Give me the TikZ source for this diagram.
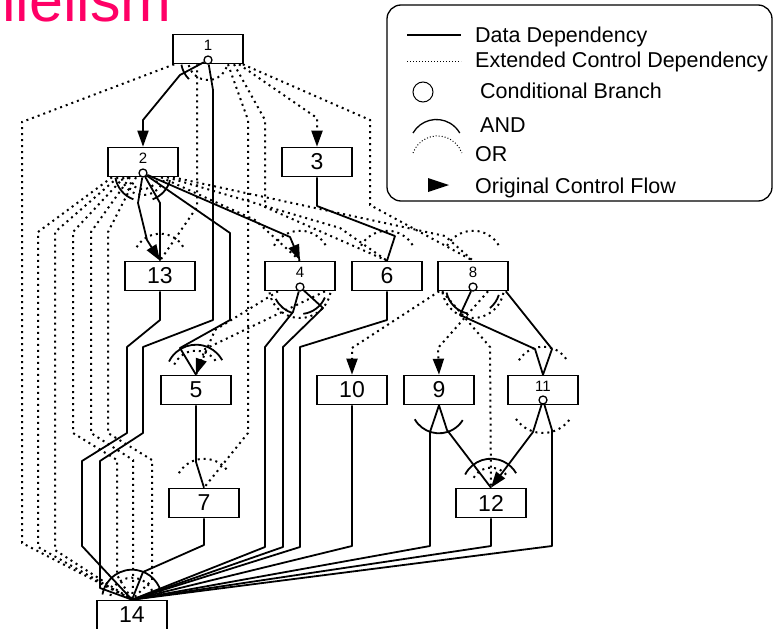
\documentclass[tikz,border=0pt]{standalone}
\usepackage{fontspec}
\setmainfont{Liberation Sans}
\usepackage{xcolor}
\definecolor{TitlePink}{HTML}{FF0066}
\usepackage{tikz}
\usetikzlibrary{arrows.meta}

\begin{document}
\begin{tikzpicture}[x=1pt,y=-1pt,
box/.style={draw,line width=1.6pt,minimum width=70pt,minimum height=29pt,inner sep=0pt,font=\fontsize{23}{23}\selectfont},
cbox/.style={box,font=\fontsize{15}{15}\selectfont,text height=10pt,text depth=8pt},
cond/.style={circle,draw,line width=1.3pt,fill=white,minimum size=8pt,inner sep=0pt},
dd/.style={line width=1.8pt,line join=round},
ecd/.style={line width=2pt,dash pattern=on 2pt off 4pt},
ocf/.style={-{Triangle[length=16pt,width=11pt]}},
andarc/.style={line width=1.8pt},
orarc/.style={ecd},
key/.style={anchor=base west,inner sep=0pt,font=\fontsize{21.5}{24}\selectfont}]
\useasboundingbox (0,0) rectangle (774,629);
\clip (0,0) rectangle (774,629);
\node[font=\fontsize{61}{61}\selectfont,text=TitlePink,anchor=base west,inner sep=0pt] (title) at (2,21) {llelism};
% legend
\draw[line width=1.3pt,rounded corners=14pt] (387,5) rectangle (772,201);
\draw[line width=1.4pt] (407,35) -- (461,35);
\draw[line width=1pt,dotted] (407,61) -- (461,61);
\draw[line width=1pt] (423,92) circle[radius=10pt];
\draw[line width=1.3pt] (413,133) arc[start angle=150,end angle=30,radius=27pt];
\draw[line width=1pt,dotted] (413,153) arc[start angle=160,end angle=20,radius=26pt];
\fill (428,178) -- (449,185) -- (428,192) -- cycle;
\node[key] (kdd) at (475,42) {Data Dependency};
\node[key] (kecd) at (475,67) {Extended Control Dependency};
\node[key] (kcb) at (480,98) {Conditional Branch};
\node[key] (kand) at (480,132) {AND};
\node[key] (kor) at (475,161) {OR};
\node[key] (kocf) at (475,193) {Original Control Flow};
% statements
\node[cbox] (n1) at (208,49) {1};
\node[cbox] (n2) at (143,162) {2};
\node[box] (n3) at (317,162) {3};
\node[box] (n13) at (160,276) {13};
\node[cbox] (n4) at (300,276) {4};
\node[box] (n6) at (387,276) {6};
\node[cbox] (n8) at (473,276) {8};
\node[box] (n5) at (196,390) {5};
\node[box] (n10) at (352,390) {10};
\node[box] (n9) at (439,390) {9};
\node[cbox] (n11) at (543,390) {11};
\node[box] (n7) at (204,503) {7};
\node[box] (n12) at (491,503) {12};
\node[box] (n14) at (132,615) {14};
% branches
\node[cond] (c1) at (208,60) {};
\node[cond] (c2) at (143,173) {};
\node[cond] (c4) at (300,287) {};
\node[cond] (c8) at (473,287) {};
\node[cond] (c11) at (543,400) {};
% data dependencies
\draw[dd,ocf] (c1) -- (180,75) -- (143,120) -- (n2.north);
\draw[dd] (c1) -- (213,90) -- (213,320) -- (143,347) -- (143,433) -- (100,461) -- (100,588) -- (n14.north);
\draw[dd,ocf] (c2) -- (138,203) -- (147,240) -- (n13.north);
\draw[dd] (c2) -- (160,203) -- (n13.north);
\draw[dd,ocf] (c2) -- (290,237) -- (n4.north);
\draw[dd] (c2) -- (230,233) -- (230,320) -- (180,348) -- (n5.north);
\draw[dd] (n3.south) -- (317,206) -- (395,236) -- (n6.north);
\draw[dd] (n13.south) -- (160,320) -- (127,347) -- (127,433) -- (82,461) -- (82,546) -- (n14.north);
\draw[dd] (c4) -- (293,312) -- (265,347) -- (265,547) -- (n14.north);
\draw[dd] (c4) -- (323,308) -- (283,347) -- (283,547) -- (n14.north);
\draw[dd] (n6.south) -- (387,320) -- (300,347) -- (300,547) -- (n14.north);
\draw[dd] (c8) -- (460,315) -- (535,349) -- (n11.north);
\draw[dd] ([xshift=-3pt]n8.south east) -- (552,349) -- (n11.north);
\draw[dd] (n5.south) -- (196,462) -- (n7.north);
\draw[dd] (n7.south) -- (204,545) -- (143,572) -- (n14.north);
\draw[dd] (n10.south) -- (352,546) -- (n14.north);
\draw[dd] (n9.south) -- (430,432) -- (430,546) -- (n14.north);
\draw[dd] (n9.south) -- (447,430) -- (n12.north);
\draw[dd,ocf] (c11) -- (533,432) -- (n12.north);
\draw[dd] (c11) -- (552,430) -- (552,546) -- (n14.north);
\draw[dd] (n12.south) -- (491,546) -- (n14.north);
% extended control dependencies
\draw[ecd] ([xshift=2pt]n1.south west) -- (22,122) -- (22,543) -- (n14.north);
\draw[ecd] ([xshift=-11pt]n1.south) -- (197,207) -- (n13.north);
\draw[ecd] ([xshift=20pt]n1.south) -- (248,120) -- (248,433) -- (n7.north);
\draw[ecd] ([xshift=26pt]n1.south) -- (265,120) -- (265,207) -- (n6.north);
\draw[ecd,ocf] ([xshift=31pt]n1.south) -- (317,118) -- (n3.north);
\draw[ecd] ([xshift=-1pt]n1.south east) -- (370,120) -- (370,205) -- (n8.north);
\draw[ecd] ([xshift=-31pt]n2.south) -- (38,232) -- (38,547) -- (n14.north);
\draw[ecd] ([xshift=-25pt]n2.south) -- (55,232) -- (55,550) -- (n14.north);
\draw[ecd] ([xshift=-19pt]n2.south) -- (73,232) -- (73,433) -- (117,460) -- (117,575) -- (n14.north);
\draw[ecd] ([xshift=-13pt]n2.south) -- (91,232) -- (91,433) -- (133,460) -- (133,585) -- (n14.north);
\draw[ecd] ([xshift=-7pt]n2.south) -- (108,232) -- (108,433) -- (152,460) -- (152,580) -- (n14.north);
\draw[ecd] ([xshift=18pt]n2.south) -- (255,220) -- (n4.north);
\draw[ecd] ([xshift=24pt]n2.south) -- (340,228) -- (n6.north);
\draw[ecd] ([xshift=30pt]n2.south) -- (445,236) -- (n8.north);
\draw[ecd,ocf] ([xshift=25pt]n4.south) -- (205,349) -- (n5.north);
\draw[ecd] ([xshift=-22pt]n4.south) -- (215,330) -- (n5.north);
\draw[ecd,ocf] ([xshift=2pt]n8.south west) -- (352,348) -- (n10.north);
\draw[ecd,ocf] ([xshift=15pt]n8.south) -- (438,348) -- (n9.north);
\draw[ecd] ([xshift=5pt]n8.south west) -- (490,347) -- (n12.north);
% AND / OR junctions
\draw[andarc] (c1) ++(190:27pt) arc[start angle=190,end angle=225,radius=27pt];
\draw[orarc] (c1) ++(195:20pt) arc[start angle=195,end angle=345,radius=20pt];
\draw[andarc] (c2) ++(190:28pt) arc[start angle=190,end angle=250,radius=28pt];
\draw[andarc] (c2) ++(290:28pt) arc[start angle=290,end angle=345,radius=28pt];
\draw[orarc] (c2) ++(195:16pt) arc[start angle=195,end angle=345,radius=16pt];
\draw[orarc] (c2) ++(195:22pt) arc[start angle=195,end angle=345,radius=22pt];
\draw[andarc] (c4) ++(206:27pt) arc[start angle=206,end angle=255,radius=27pt];
\draw[andarc] (c4) ++(277:27pt) arc[start angle=277,end angle=337,radius=27pt];
\draw[orarc] (c4) ++(190:31pt) arc[start angle=190,end angle=350,radius=31pt];
\draw[andarc] (c8) ++(192:27pt) arc[start angle=192,end angle=259,radius=27pt];
\draw[andarc] (c8) ++(309:27pt) arc[start angle=309,end angle=343,radius=27pt];
\draw[orarc] (c8) ++(190:31pt) arc[start angle=190,end angle=350,radius=31pt];
\draw[orarc] (c11) ++(215:33pt) arc[start angle=215,end angle=325,radius=33pt];
\draw[andarc] (n9.south) ++(210:28pt) arc[start angle=210,end angle=328,radius=28pt];
\draw[orarc] (n11.north) ++(149:28pt) arc[start angle=149,end angle=32,radius=28pt];
\draw[andarc] (n12.north) ++(153:29pt) arc[start angle=153,end angle=30,radius=29pt];
\draw[orarc] (n12.north) ++(150:20pt) arc[start angle=150,end angle=30,radius=20pt];
\draw[andarc] (n5.north) ++(154:30pt) arc[start angle=154,end angle=29,radius=30pt];
\draw[orarc] (n5.north) ++(155:24pt) arc[start angle=155,end angle=30,radius=24pt];
\draw[orarc] (n7.north) ++(150:29pt) arc[start angle=150,end angle=33,radius=29pt];
\draw[orarc] (n13.north) ++(150:27pt) arc[start angle=150,end angle=30,radius=27pt];
\draw[orarc] (n4.north) ++(150:30pt) arc[start angle=150,end angle=30,radius=30pt];
\draw[orarc] (n6.north) ++(150:30pt) arc[start angle=150,end angle=30,radius=30pt];
\draw[orarc] (n8.north) ++(150:30pt) arc[start angle=150,end angle=30,radius=30pt];
\draw[andarc] (n14.north) ++(170:30pt) arc[start angle=170,end angle=8,radius=30pt];
\draw[orarc] (n14.north) ++(170:22pt) arc[start angle=170,end angle=8,radius=22pt];
\end{tikzpicture}
\end{document}
